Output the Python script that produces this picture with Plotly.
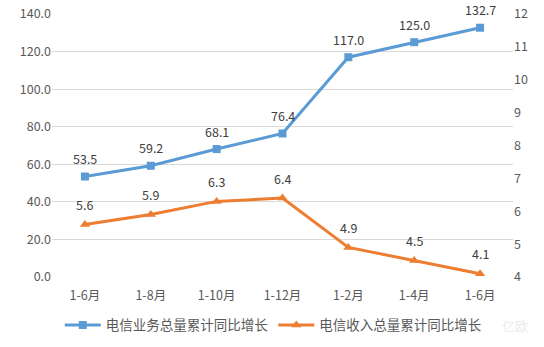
import plotly.graph_objects as go

categories = ["1-6月", "1-8月", "1-10月", "1-12月", "1-2月", "1-4月", "1-6月"]
business_growth = [53.5, 59.2, 68.1, 76.4, 117.0, 125.0, 132.7]
revenue_growth = [5.6, 5.9, 6.3, 6.4, 4.9, 4.5, 4.1]
left_ticks = [0, 20, 40, 60, 80, 100, 120, 140]
right_ticks = [4, 5, 6, 7, 8, 9, 10, 11, 12]

BLUE = "#5b9bd5"
ORANGE = "#ed7d31"
TEXT = "#595959"
FONT = "Noto Sans CJK SC"

x = list(range(len(categories)))

fig = go.Figure()
fig.add_trace(go.Scatter(
    x=x, y=business_growth, name="电信业务总量累计同比增长",
    mode="lines+markers",
    line=dict(color=BLUE, width=3),
    marker=dict(symbol="square", size=8, color=BLUE),
    yaxis="y",
))
fig.add_trace(go.Scatter(
    x=x, y=revenue_growth, name="电信收入总量累计同比增长",
    mode="lines+markers",
    line=dict(color=ORANGE, width=3),
    marker=dict(symbol="triangle-up", size=9, color=ORANGE),
    yaxis="y2",
))

annotations = []
for xi, v in zip(x, business_growth):
    annotations.append(dict(x=xi, y=v, xref="x", yref="y", text=f"{v:.1f}",
                            showarrow=False, yshift=18, borderpad=0,
                            font=dict(family=FONT, size=12.5, color="#404040")))
for xi, v in zip(x, revenue_growth):
    annotations.append(dict(x=xi, y=v, xref="x", yref="y2", text=f"{v:.1f}",
                            showarrow=False, yshift=20, borderpad=0,
                            font=dict(family=FONT, size=12.5, color="#404040")))
annotations.append(dict(x=1.005, y=-0.183, xref="paper", yref="paper",
                        text="亿欧", showarrow=False, xanchor="center",
                        yanchor="middle",
                        font=dict(family=FONT, size=13, color="#ececec")))

fig.update_layout(
    width=544, height=347,
    margin=dict(l=52, r=31, t=14, b=70, autoexpand=False),
    paper_bgcolor="white", plot_bgcolor="white",
    font=dict(family=FONT, size=12.5, color=TEXT),
    showlegend=True,
    legend=dict(orientation="h", x=0.48, xanchor="center", y=-0.183,
                yanchor="middle",
                font=dict(family=FONT, size=13.5, color=TEXT),
                itemwidth=36, traceorder="normal"),
    xaxis=dict(
        tickmode="array", tickvals=x, ticktext=categories,
        range=[-0.5, len(categories) - 0.5],
        showgrid=False, zeroline=False, showline=False,
        ticks="", ticklabelstandoff=9,
        tickfont=dict(size=12.5, color=TEXT),
    ),
    yaxis=dict(
        range=[0, 140], tickvals=left_ticks,
        ticktext=[f"{t:.1f}" for t in left_ticks],
        showgrid=True, gridcolor="#d9d9d9", gridwidth=1,
        zeroline=False, showline=False, ticks="",
        tickfont=dict(size=12.5, color=TEXT),
    ),
    yaxis2=dict(
        range=[4, 12], tickvals=right_ticks,
        overlaying="y", side="right",
        showgrid=False, zeroline=False, showline=False, ticks="",
        tickfont=dict(size=12.5, color=TEXT),
    ),
    annotations=annotations,
)

fig.write_html("out.html")
